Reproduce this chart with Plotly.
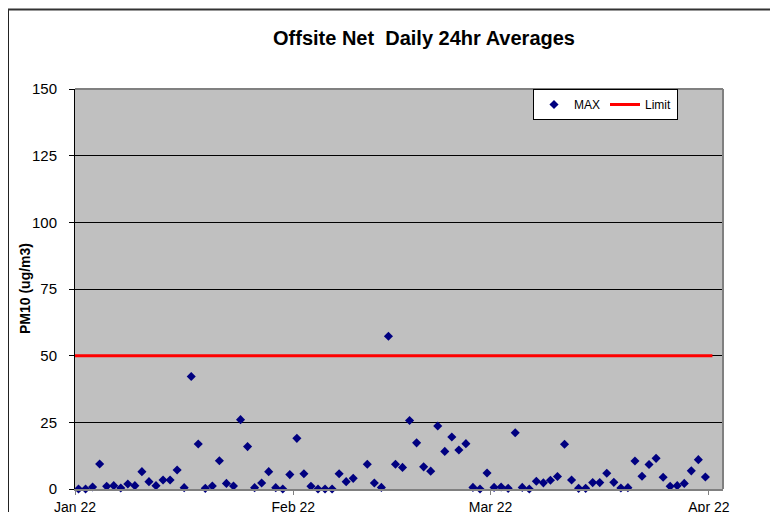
import pandas as pd
import plotly.graph_objects as go

# ---- data ----
jan_values = [0, 0, 0.75, 9.4, 1.0, 1.25, 0.4, 1.9, 1.25, 6.5, 2.75, 1.25, 3.4, 3.4, 7.1, 0.5,
              42.2, 16.9, 0.25, 1.1, 10.6, 2.1, 1.1, 26.0, 15.9, 0.5, 2.25, 6.5, 0.5, 0, 5.4]
feb_values = [19.0, 5.7, 1.0, 0, 0, 0, 5.7, 2.75, 4.0, None, 9.3, 2.25, 0.6, 57.3, 9.3, 8.1,
              25.7, 17.3, 8.3, 6.7, 23.6, 14.1, 19.5, 14.6, 17.0, 0.6, 0, 6.0]
mar_values = [0.6, 0.75, 0.25, 21.1, 0.6, 0, 2.9, 2.3, 3.3, 4.7, 16.8, 3.4, 0.25, 0.25, 2.4, 2.4,
              5.9, 2.5, 0.4, 0.5, 10.5, 4.8, 9.2, 11.5, 4.4, 1.0, 1.25, 2.1, 6.8, 11.0, 4.5]
max_values = jan_values + feb_values + mar_values
dates = pd.date_range("2022-01-01", periods=len(max_values), freq="D")

limit_dates = ["2022-01-01", "2022-04-01 12:00"]
limit_values = [50, 50]

tick_vals = ["2022-01-01", "2022-02-01", "2022-03-01", "2022-04-01"]
tick_text = ["Jan 22", "Feb 22", "Mar 22", "Apr 22"]
y_ticks = [0, 25, 50, 75, 100, 125, 150]

FONT = "Arial, Liberation Sans, sans-serif"

fig = go.Figure()
fig.add_trace(go.Scatter(
    x=dates, y=max_values, name="MAX", mode="markers",
    xperiod=86400000, xperiodalignment="middle", cliponaxis=False,
    marker=dict(symbol="diamond", size=7, color="#000080"),
))
fig.add_trace(go.Scatter(
    x=limit_dates, y=limit_values, name="Limit", mode="lines",
    line=dict(color="#FF0000", width=3),
))

OFF = 8  # page body margin
W, H = 778 - OFF, 512 - OFF
L, T, R, B = 75 - OFF, 89 - OFF, 723 - OFF, 489 - OFF
pw, ph = R - L, B - T

def px_x(p):  # page pixel -> paper
    return (p - OFF - L) / pw

def px_y(p):
    return (B - (p - OFF)) / ph

fig.update_layout(
    width=W, height=H, autosize=False,
    margin=dict(l=L, r=W - R, t=T, b=H - B, pad=0, autoexpand=False),
    paper_bgcolor="white",
    plot_bgcolor="#C0C0C0",
    font=dict(family=FONT, size=14, color="black"),
    title=dict(text="Offsite Net\u00a0 Daily 24hr Averages",
               font=dict(family=FONT, size=20, color="black", weight="bold"),
               x=(424 - OFF) / W, xanchor="center", y=1 - (38 - OFF) / H, yanchor="middle"),
    showlegend=True,
    legend=dict(orientation="h", x=px_x(678), xanchor="right", y=1.0, yanchor="top",
                bgcolor="white", bordercolor="black", borderwidth=1,
                font=dict(family=FONT, size=12, color="black"),
                itemwidth=30, tracegroupgap=0),
    xaxis=dict(type="date", range=["2022-01-01", "2022-04-03"], automargin=False,
               tickvals=tick_vals, ticktext=tick_text,
               showgrid=False, zeroline=False,
               showline=True, linecolor="#808080", linewidth=2,
               ticks="outside", ticklen=4, tickcolor="#808080",
               tickfont=dict(family=FONT, size=14, color="black")),
    yaxis=dict(range=[0, 150], tickvals=y_ticks, automargin=False,
               showgrid=True, gridcolor="black", gridwidth=1, zeroline=False,
               showline=True, linecolor="black", linewidth=1,
               ticks="outside", ticklen=5, tickcolor="black", ticklabelstandoff=9,
               tickfont=dict(family=FONT, size=15, color="black")),
    annotations=[dict(text="<b>PM10 (ug/m3)</b>", textangle=-90,
                      xref="paper", yref="paper", x=px_x(25), y=0.5,
                      xanchor="center", yanchor="middle", showarrow=False,
                      font=dict(family=FONT, size=14, color="black"))],
    shapes=[
        dict(type="line", xref="paper", yref="paper", x0=0, x1=1, y0=1, y1=1,
             line=dict(color="#808080", width=2), layer="above"),
        dict(type="line", xref="paper", yref="paper", x0=1, x1=1, y0=0, y1=1,
             line=dict(color="#808080", width=2), layer="above"),
        dict(type="line", xref="paper", yref="paper", x0=px_x(8.5), x1=px_x(8.5),
             y0=px_y(9), y1=px_y(530), line=dict(color="#222222", width=1)),
        dict(type="line", xref="paper", yref="paper", x0=px_x(8), x1=px_x(790),
             y0=px_y(9.5), y1=px_y(9.5), line=dict(color="#333333", width=2)),
    ],
)

fig.write_html("out.html")
